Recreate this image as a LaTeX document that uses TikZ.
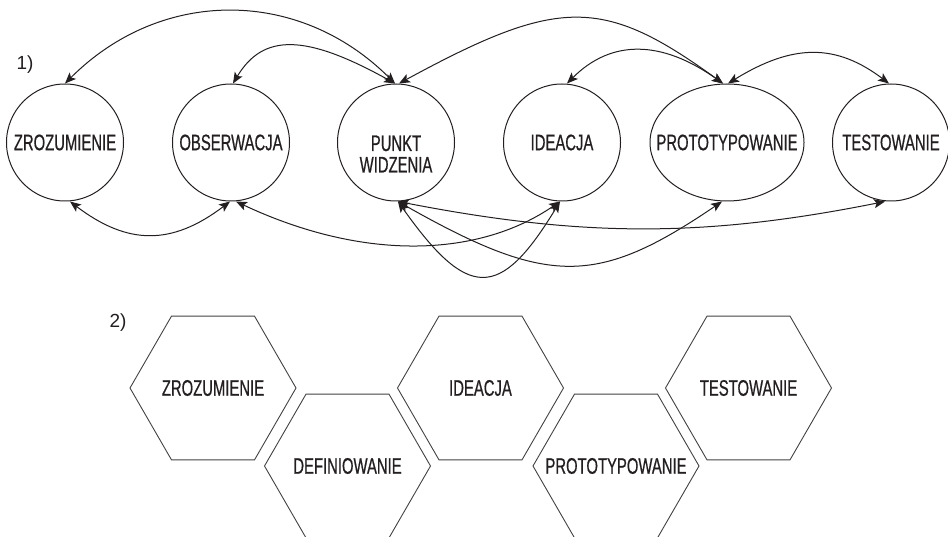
\documentclass[tikz,border=0pt]{standalone}
\usepackage{fontspec}
\setmainfont{Liberation Sans}
\newfontfamily\condfont{Liberation Sans}[FakeStretch=0.66,FakeBold=0.6]
\usetikzlibrary{arrows.meta,shapes.geometric}
\definecolor{ink}{RGB}{35,31,32}
\newcommand{\zw}[1]{\makebox[0pt][c]{#1}}
\tikzset{
  lblfont/.style={font=\condfont\fontsize{22.5}{22.5}\selectfont},
  circ/.style={draw=ink, line width=1pt, circle, minimum size=117pt, inner sep=0pt, text=ink, lblfont},
  ell/.style={draw=ink, line width=1pt, ellipse, minimum width=154pt, minimum height=117pt, inner sep=0pt, text=ink, lblfont},
  hexa/.style={draw=ink!85, line width=0.9pt, regular polygon, regular polygon sides=6, minimum size=166pt, inner sep=0pt, text=ink, lblfont},
  txt/.style={text=ink, inner sep=0pt, lblfont},
  numlbl/.style={text=ink, inner sep=0pt, font=\fontsize{19}{19}\selectfont},
  link/.style={draw=ink, line width=1pt, {Stealth[length=11pt,width=9pt,inset=2.5pt]}-{Stealth[length=11pt,width=9pt,inset=2.5pt]}}
}
\begin{document}
\begin{tikzpicture}[x=1pt,y=-1pt]
\useasboundingbox (0,0) rectangle (948,537);
\clip (0,0) rectangle (948,537);

\node[numlbl] (n1) at (25,65) {1)};
\node[numlbl] (n2) at (118,323) {2)};

% top row
\node[circ] (zr) at (65,142.5) {\zw{ZROZUMIENIE}};
\node[circ] (ob) at (231,142.5) {\zw{OBSERWACJA}};
\node[circ] (pw) at (396,142.5) {};
\node[txt, align=center] (pwt) at (396,154) {PUNKT\\[-1pt]WIDZENIA};
\node[circ] (id) at (562,142.5) {\zw{IDEACJA}};
\node[ell] (pr) at (727,142.5) {\zw{PROTOTYPOWANIE}};
\node[circ] (te) at (891,142.5) {\zw{TESTOWANIE}};

% upper arcs
\draw[link] (zr.north) .. controls +(96,-96) and +(-96,-96) .. ([xshift=-1pt]pw.north);
\draw[link] ([xshift=2pt]ob.north) .. controls +(30,-50) and +(-90,-50) .. ([xshift=-1pt]pw.north);
\draw[link] ([xshift=3pt]pw.north) .. controls +(160,-87) and +(-120,-87) .. ([xshift=-4pt]pr.north);
\draw[link] ([xshift=5pt]id.north) .. controls +(44,-44) and +(-62,-44) .. ([xshift=-4pt]pr.north);
\draw[link] ([xshift=1pt]pr.north) .. controls +(65,-40) and +(-53,-40) .. ([xshift=-2pt]te.north);

% lower arcs
\draw[link] ([xshift=5pt]zr.south) .. controls +(58,44) and +(-58,44) .. ([xshift=-1pt]ob.south);
\draw[link] ([xshift=5pt]ob.south) .. controls +(130,61) and +(-80,55) .. ([xshift=-2pt]id.south);
\draw[link] ([xshift=2pt]pw.south) .. controls +(185,36) and +(-180,36) .. ([xshift=-6pt]te.south);
\draw[link] ([xshift=2pt]pw.south) .. controls +(150,85) and +(-125,85) .. ([xshift=-5pt]pr.south);
\draw[link] ([xshift=2pt]pw.south) .. controls +(70,99) and +(-60,99) .. ([xshift=-2pt]id.south);

% hexagons
\node[hexa] (h1) at (213,388) {\zw{ZROZUMIENIE}};
\node[hexa] (h2) at (347.5,466) {\zw{DEFINIOWANIE}};
\node[hexa] (h3) at (480.5,388) {\zw{IDEACJA}};
\node[hexa] (h4) at (616,466) {\zw{PROTOTYPOWANIE}};
\node[hexa] (h5) at (748.5,388) {\zw{TESTOWANIE}};
\end{tikzpicture}
\end{document}
